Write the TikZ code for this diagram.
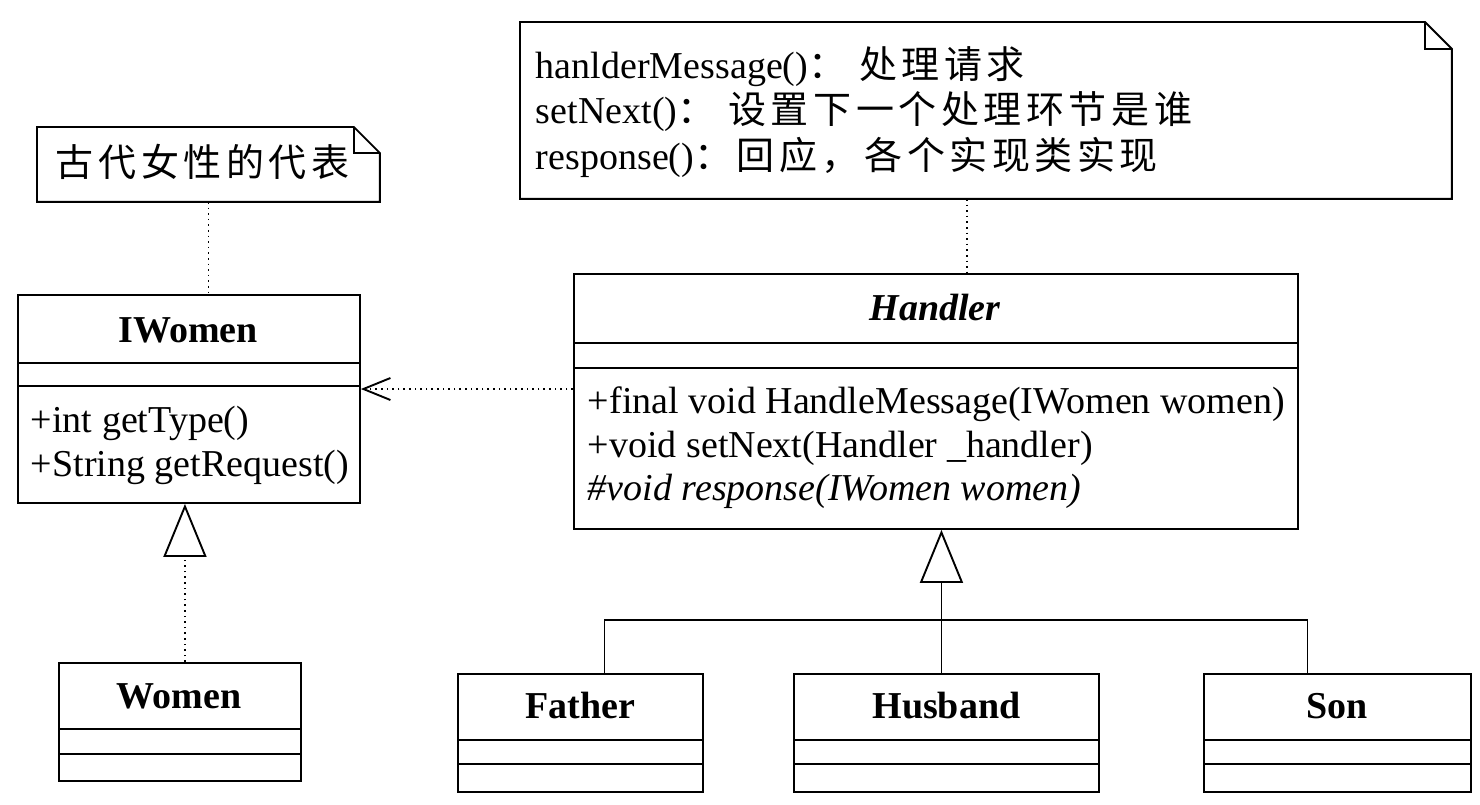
\documentclass[tikz,border=0pt]{standalone}
\usepackage{fontspec}
\setmainfont{Liberation Serif}
\newfontfamily\cjk{Noto Sans CJK SC}[LetterSpace=12]
\usetikzlibrary{arrows.meta}
\usetikzlibrary{calc}

\begin{document}
\begin{tikzpicture}[x=1pt,y=-1pt,line width=1.9pt,
	texto/.style={inner sep=0pt,font=\fontsize{38}{44}\selectfont},
	titulo/.style={texto,anchor=base,font=\fontsize{38}{44}\selectfont\bfseries},
	clase/.style={draw,inner sep=0pt,anchor=north west},
	hueco/.style={inner sep=0pt,anchor=north west},
	punteado/.style={line width=1.9pt,dash pattern=on 1.6pt off 4pt}]
		\useasboundingbox (0,0) rectangle (1480,804);
		% notas
		\node[hueco,minimum width=341pt,minimum height=73pt] (N1) at (37,127) {}; %nota de IWomen
		\draw (N1.south west) -- (N1.north west) -- ($(N1.north east)+(-26,0)$) -- ($(N1.north east)+(0,26)$) -- (N1.south east) -- cycle;
		\draw ($(N1.north east)+(-26,0)$) -- ++(0,26) -- ++(26,0); %esquina doblada
		\node[texto,anchor=base west] (t1) at (55,176) {\cjk 古代女性的代表};
		\node[hueco,minimum width=930pt,minimum height=175pt] (N2) at (520,22) {}; %nota de Handler
		\draw (N2.south west) -- (N2.north west) -- ($(N2.north east)+(-27,0)$) -- ($(N2.north east)+(0,27)$) -- (N2.south east) -- cycle;
		\draw ($(N2.north east)+(-27,0)$) -- ++(0,27) -- ++(27,0); %esquina doblada
		\node[texto,anchor=base west] (t2a) at (535,78) {hanlderMessage()\cjk： 处理请求};
		\node[texto,anchor=base west] (t2b) at (535,123) {setNext()\cjk： 设置下一个处理环节是谁};
		\node[texto,anchor=base west] (t2c) at (535,169) {response()\cjk：回应，各个实现类实现};
		% clase IWomen
		\node[clase,minimum width=342pt,minimum height=208pt] (IWomen) at (17,294) {};
		\draw ($(IWomen.north west)+(0,69)$) -- ($(IWomen.north east)+(0,69)$);
		\draw ($(IWomen.north west)+(0,92)$) -- ($(IWomen.north east)+(0,92)$);
		\node[titulo] (iwn) at (188,342) {IWomen};
		\node[texto,anchor=base west] (iw1) at (30,432) {+int getType()};
		\node[texto,anchor=base west] (iw2) at (30,476) {+String getRequest()};
		% clase Women
		\node[clase,minimum width=242pt,minimum height=118pt] (Women) at (58,662) {};
		\draw ($(Women.north west)+(0,67)$) -- ($(Women.north east)+(0,67)$);
		\draw ($(Women.north west)+(0,92)$) -- ($(Women.north east)+(0,92)$);
		\node[titulo] (wn) at (179,708) {Women};
		% clase Handler
		\node[clase,minimum width=724pt,minimum height=255pt] (Handler) at (573,273) {};
		\draw ($(Handler.north west)+(0,70)$) -- ($(Handler.north east)+(0,70)$);
		\draw ($(Handler.north west)+(0,95)$) -- ($(Handler.north east)+(0,95)$);
		\node[titulo,font=\fontsize{38}{44}\selectfont\bfseries\itshape] (hn) at (935,320) {Handler};
		\node[texto,anchor=base west] (h1) at (587,413) {+final void HandleMessage(IWomen women)};
		\node[texto,anchor=base west] (h2) at (587,457) {+void setNext(Handler \_handler)};
		\node[texto,anchor=base west,font=\fontsize{38}{44}\selectfont\itshape] (h3) at (587,500) {\#void response(IWomen women)};
		% subclases
		\foreach \nombre/\x/\w in {Father/457/245, Husband/793/305, Son/1203/267}{
			\node[clase,minimum width=\w pt,minimum height=118pt] (\nombre) at (\x,673) {};
			\draw ($(\nombre.north west)+(0,67)$) -- ($(\nombre.north east)+(0,67)$);
			\draw ($(\nombre.north west)+(0,91)$) -- ($(\nombre.north east)+(0,91)$);
			\node[titulo] at ($(\nombre.north)+(0,45)$) {\nombre};
		}
		% relaciones
		\draw[punteado] (N1.south) -- (N1.south |- IWomen.north); %nota a IWomen
		\coordinate (n2b) at ($(N2.south)+(-19,0)$);
		\draw[punteado] (n2b) -- (n2b |- Handler.north); %nota a Handler
		\coordinate (dep) at (0,389);
		\draw[punteado,-{Straight Barb[length=27pt,width=22pt,line width=1.9pt]}] (Handler.west |- dep) -- (IWomen.east |- dep); %dependencia
		\coordinate (w1) at ($(Women.north)+(5,0)$);
		\draw[punteado,-{Triangle[open,length=53pt,width=43pt,line width=1.9pt]}] (w1) -- (w1 |- IWomen.south); %realizacion
		\coordinate (hb) at ($(Husband.north)+(-5,0)$);
		\draw[-{Triangle[open,length=53pt,width=43pt]}] (hb) -- (hb |- Handler.south); %herencia
		\coordinate (barra) at (940,620);
		\draw ($(Father.north)+(24,0)$) |- (barra) -| ($(Son.north)+(-30,0)$);
\end{tikzpicture}
\end{document}
